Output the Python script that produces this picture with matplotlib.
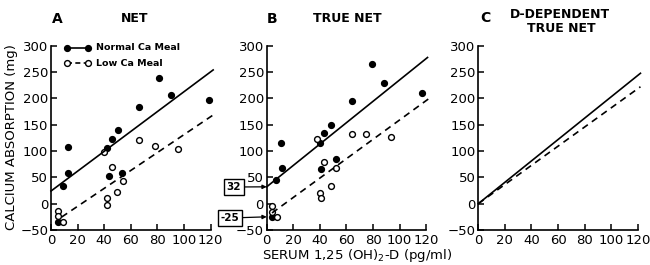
import matplotlib
matplotlib.use("Agg")
import matplotlib.pyplot as plt

# ---- data ----
# panel A (net)
a_norm_x = [5.5, 9.3, 12.5, 12.5, 42.4, 43.6, 45.6, 50.2, 53.7, 66.5, 81, 90.3, 118.7]
a_norm_y = [-34, 34, 58, 107, 105, 53, 123, 139, 58, 183, 238, 207, 197]
a_low_x = [5.5, 5.5, 8.8, 40.2, 41.8, 41.8, 45.6, 49.8, 54, 66.5, 78.5, 95.4]
a_low_y = [-13, -23, -35, 98, 10, -2, 69, 23, 44, 120, 110, 103]

# panel B (true net)
b_norm_x = [4, 7, 10.5, 11.3, 40.1, 40.6, 43.4, 48.2, 51.9, 64, 79.5, 88.5, 116.6]
b_norm_y = [-26, 45, 115, 68, 115, 66, 135, 150, 84, 195, 265, 229, 210]
b_low_x = [4, 4, 8, 38, 40, 41, 43, 48, 52, 64, 75, 93.5]
b_low_y = [-4, -15, -26, 122, 21, 10, 80, 34, 67, 133, 133, 127]

# regression lines (intercept, slope, x start, x end)
a_norm_fit = (24, 1.885, 0, 122)
a_low_fit = (-39, 1.70, 8, 122)
b_norm_fit = (32, 2.03, 0, 121)
b_low_fit = (-25, 1.84, 4, 122)
c_norm_fit = (0, 2.03, 0, 122)
c_low_fit = (0, 1.82, 0, 122)

xticks = [0, 20, 40, 60, 80, 100, 120]
yticks = [-50, 0, 50, 100, 150, 200, 250, 300]

W, H = 650, 265
fig = plt.figure(figsize=(6.5, 2.65), dpi=100)
plt.rcParams['font.family'] = 'DejaVu Sans'


def px_axes(x0, x1, ytop=45.7, ybot=230):
    return fig.add_axes([x0 / W, 1 - ybot / H, (x1 - x0) / W, (ybot - ytop) / H])


def style(ax):
    ax.set_xlim(0, 120)
    ax.set_ylim(-50, 300)
    ax.set_xticks(xticks)
    ax.set_yticks(yticks)
    for s in ['top', 'right']:
        ax.spines[s].set_visible(False)
    for s in ['left', 'bottom']:
        ax.spines[s].set_linewidth(1.2)
    ax.tick_params(direction='in', length=4, width=1.1, labelsize=9.5, pad=2)
    ax.tick_params(axis='x', pad=3)


def fit_line(ax, fit, ls):
    b, m, xs, xe = fit
    ax.plot([xs, xe], [b + m * xs, b + m * xe], color='black', ls=ls,
            lw=1.2, clip_on=False, dashes=(4, 3) if ls == '--' else (None, None))


def scatter(ax, xn, yn, xl, yl):
    ax.plot(xn, yn, 'o', color='black', ms=4.2, clip_on=False)
    ax.plot(xl, yl, 'o', mfc='white', mec='black', mew=1.0, ms=4.2, clip_on=False)


axA = px_axes(51, 210.5)
axB = px_axes(266.7, 426.2)
axC = px_axes(478.3, 637.8)
for ax in (axA, axB, axC):
    style(ax)

scatter(axA, a_norm_x, a_norm_y, a_low_x, a_low_y)
fit_line(axA, a_norm_fit, '-')
fit_line(axA, a_low_fit, '--')

scatter(axB, b_norm_x, b_norm_y, b_low_x, b_low_y)
fit_line(axB, b_norm_fit, '-')
fit_line(axB, b_low_fit, '--')

fit_line(axC, c_norm_fit, '-')
fit_line(axC, c_low_fit, '--')

# legend drawn by hand in panel A
axA.plot([12, 28], [296, 296], '-o', color='black', ms=4.2, lw=1.2, clip_on=False)
axA.plot([12, 28], [267, 267], '--o', color='black', mfc='white', ms=4.2, lw=1.2,
         dashes=(3, 2), clip_on=False)
axA.text(34, 296, 'Normal Ca Meal', fontsize=6.8, fontweight='bold', va='center')
axA.text(34, 267, 'Low Ca Meal', fontsize=6.8, fontweight='bold', va='center')

# intercept boxes in panel B
for val, (bx, by) in [(32, (234, 187)), (-25, (230, 218))]:
    axB.annotate(str(val), xy=(0, val), xycoords='data',
                 xytext=(bx, H - by), textcoords='figure pixels',
                 fontsize=7.5, fontweight='bold', ha='center', va='center',
                 bbox=dict(boxstyle='square,pad=0.25', fc='white', ec='black', lw=1),
                 arrowprops=dict(arrowstyle='-|>', color='black', lw=0.9,
                                 mutation_scale=6, shrinkA=0, shrinkB=0),
                 annotation_clip=False)

# panel titles
def ftext(x, y, s, **kw):
    fig.text(x / W, 1 - y / H, s, ha='center', va='center', fontweight='bold', **kw)

ftext(57, 19, 'A', fontsize=10)
ftext(135, 19, 'NET', fontsize=9)
ftext(272, 19, 'B', fontsize=10)
ftext(347, 19, 'TRUE NET', fontsize=9)
ftext(485, 18, 'C', fontsize=10)
ftext(560, 15, 'D-DEPENDENT', fontsize=9)
ftext(561, 29, 'TRUE NET', fontsize=9)

fig.text(12 / W, 1 - 137 / H, 'CALCIUM ABSORPTION (mg)', rotation=90,
         ha='center', va='center', fontsize=9.5)
fig.text(357 / W, 1 - 256 / H, r'SERUM 1,25 (OH)$_2$-D (pg/ml)',
         ha='center', va='center', fontsize=9.5)

fig.savefig('out.png', dpi=100)
